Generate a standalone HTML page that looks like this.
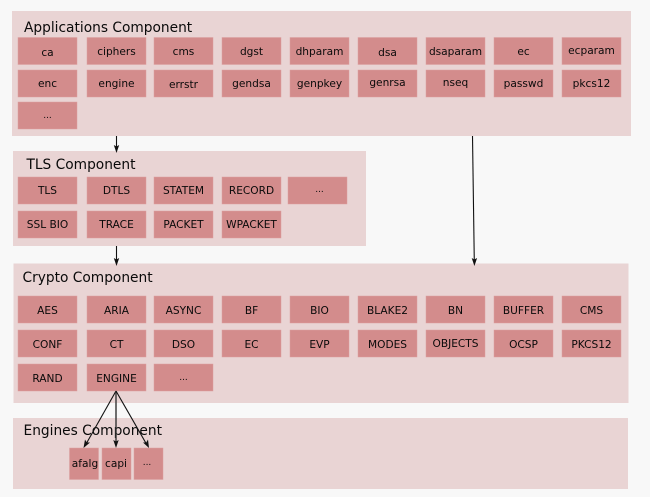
<!DOCTYPE html>
<html>
<head>
<meta charset="utf-8">
<style>
html,body{margin:0;padding:0;background:#f8f8f8;}
svg{display:block;}
text{font-family:"DejaVu Sans",sans-serif;fill:#0a0a0a;}
.t{font-size:13.75px;}
.b{font-size:10.6px;text-anchor:middle;}
.p{fill:#e9d4d4;}
.n{fill:#d38c8c;stroke:#dc9f9f;stroke-width:.5;}
.l{stroke:#111;stroke-width:1.1;fill:none;}
.a{fill:#111;}
</style>
</head>
<body>
<svg width="650" height="497" viewBox="0 0 650 497" xmlns="http://www.w3.org/2000/svg">
<rect width="650" height="497" fill="#f8f8f8"/>
<rect class="p" x="12" y="11" width="619" height="125"/>
<rect class="p" x="13" y="151" width="353" height="95"/>
<rect class="p" x="13.500" y="263.500" width="615" height="139.500"/>
<rect class="p" x="13" y="418" width="615" height="71"/>
<text class="t" x="24" y="32">Applications Component</text>
<text class="t" x="26.500" y="169">TLS Component</text>
<text class="t" x="22.500" y="282">Crypto Component</text>
<text class="t" x="23.500" y="435">Engines Component</text>

<g>
<rect class="n" x="18" y="37.500" width="59" height="27"/><rect class="n" x="87" y="37.500" width="59" height="27"/><rect class="n" x="154" y="37.500" width="59" height="27"/><rect class="n" x="222" y="37.500" width="59" height="27"/><rect class="n" x="290" y="37.500" width="59" height="27"/><rect class="n" x="358" y="37.500" width="59" height="27"/><rect class="n" x="426" y="37.500" width="59" height="27"/><rect class="n" x="494" y="37.500" width="59" height="27"/><rect class="n" x="562" y="37.500" width="59" height="27"/>
<rect class="n" x="18" y="70" width="59" height="27"/><rect class="n" x="87" y="70" width="59" height="27"/><rect class="n" x="154" y="70" width="59" height="27"/><rect class="n" x="222" y="70" width="59" height="27"/><rect class="n" x="290" y="70" width="59" height="27"/><rect class="n" x="358" y="70" width="59" height="27"/><rect class="n" x="426" y="70" width="59" height="27"/><rect class="n" x="494" y="70" width="59" height="27"/><rect class="n" x="562" y="70" width="59" height="27"/>
<rect class="n" x="18" y="102" width="59" height="27"/>

<rect class="n" x="18" y="177" width="59" height="27"/><rect class="n" x="87" y="177" width="59" height="27"/><rect class="n" x="154" y="177" width="59" height="27"/><rect class="n" x="222" y="177" width="59" height="27"/><rect class="n" x="288" y="177" width="59" height="27"/>
<rect class="n" x="18" y="211" width="59" height="27"/><rect class="n" x="87" y="211" width="59" height="27"/><rect class="n" x="154" y="211" width="59" height="27"/><rect class="n" x="222" y="211" width="59" height="27"/>

<rect class="n" x="18" y="296" width="59" height="27"/><rect class="n" x="87" y="296" width="59" height="27"/><rect class="n" x="154" y="296" width="59" height="27"/><rect class="n" x="222" y="296" width="59" height="27"/><rect class="n" x="290" y="296" width="59" height="27"/><rect class="n" x="358" y="296" width="59" height="27"/><rect class="n" x="426" y="296" width="59" height="27"/><rect class="n" x="494" y="296" width="59" height="27"/><rect class="n" x="562" y="296" width="59" height="27"/>
<rect class="n" x="18" y="330" width="59" height="27"/><rect class="n" x="87" y="330" width="59" height="27"/><rect class="n" x="154" y="330" width="59" height="27"/><rect class="n" x="222" y="330" width="59" height="27"/><rect class="n" x="290" y="330" width="59" height="27"/><rect class="n" x="358" y="330" width="59" height="27"/><rect class="n" x="426" y="330" width="59" height="27"/><rect class="n" x="494" y="330" width="59" height="27"/><rect class="n" x="562" y="330" width="59" height="27"/>
<rect class="n" x="18" y="364" width="59" height="27"/><rect class="n" x="87" y="364" width="59" height="27"/><rect class="n" x="154" y="364" width="59" height="27"/>

<rect class="n" x="69.500" y="448" width="29" height="31.500"/><rect class="n" x="102" y="448" width="29" height="31.500"/><rect class="n" x="134" y="448" width="29" height="31.500"/>
</g>

<g class="labels">
<text class="b" x="47.500" y="56">ca</text><text class="b" x="116.500" y="55">ciphers</text><text class="b" x="183.500" y="55">cms</text><text class="b" x="251.500" y="55">dgst</text><text class="b" x="319.500" y="55">dhparam</text><text class="b" x="387.500" y="56">dsa</text><text class="b" x="455.500" y="55">dsaparam</text><text class="b" x="523.500" y="55">ec</text><text class="b" x="591.500" y="54">ecparam</text>
<text class="b" x="47.500" y="87">enc</text><text class="b" x="116.500" y="87">engine</text><text class="b" x="183.500" y="88">errstr</text><text class="b" x="251.500" y="87">gendsa</text><text class="b" x="319.500" y="87">genpkey</text><text class="b" x="387.500" y="86">genrsa</text><text class="b" x="455.500" y="86">nseq</text><text class="b" x="523.500" y="87">passwd</text><text class="b" x="591.500" y="87">pkcs12</text>
<text class="b" x="47.500" y="118" style="font-size:9px">...</text>

<text class="b" x="47.500" y="194">TLS</text><text class="b" x="116.500" y="194">DTLS</text><text class="b" x="183.500" y="194">STATEM</text><text class="b" x="251.500" y="194">RECORD</text><text class="b" x="319.500" y="192" style="font-size:9px">...</text>
<text class="b" x="47.500" y="228">SSL BIO</text><text class="b" x="116.500" y="228">TRACE</text><text class="b" x="183.500" y="228">PACKET</text><text class="b" x="251.500" y="228">WPACKET</text>

<text class="b" x="47.500" y="314">AES</text><text class="b" x="116.500" y="314">ARIA</text><text class="b" x="183.500" y="314">ASYNC</text><text class="b" x="251.500" y="314">BF</text><text class="b" x="319.500" y="314">BIO</text><text class="b" x="387.500" y="314">BLAKE2</text><text class="b" x="455.500" y="314">BN</text><text class="b" x="523.500" y="314">BUFFER</text><text class="b" x="591.500" y="314">CMS</text>
<text class="b" x="47.500" y="348">CONF</text><text class="b" x="116.500" y="348">CT</text><text class="b" x="183.500" y="348">DSO</text><text class="b" x="251.500" y="348">EC</text><text class="b" x="319.500" y="348">EVP</text><text class="b" x="387.500" y="348">MODES</text><text class="b" x="455.500" y="347">OBJECTS</text><text class="b" x="523.500" y="348">OCSP</text><text class="b" x="591.500" y="348">PKCS12</text>
<text class="b" x="47.500" y="382">RAND</text><text class="b" x="116.500" y="382">ENGINE</text><text class="b" x="183.500" y="380" style="font-size:9px">...</text>

<text class="b" x="85" y="467">afalg</text><text class="b" x="116" y="467">capi</text><text class="b" x="147" y="465" style="font-size:9px">...</text>
</g>

<g>
<line class="l" x1="116.500" y1="136" x2="116.500" y2="149"/>
<polygon class="a" points="116.500,153 113.800,145 116.500,146.500 119.200,145"/>
<line class="l" x1="116.500" y1="246" x2="116.500" y2="262"/>
<polygon class="a" points="116.500,266 113.800,258 116.500,259.500 119.200,258"/>
<line class="l" x1="472.500" y1="136" x2="474.300" y2="262"/>
<polygon class="a" points="474.400,266 471.700,258 474.300,259.500 477.100,258"/>
<line class="l" x1="116" y1="391" x2="85.500" y2="445"/>
<polygon class="a" points="83.500,448 85,439.500 86.800,442.500 90,442.500"/>
<line class="l" x1="116" y1="391" x2="116" y2="445" style="stroke-width:1.400;stroke:#333"/>
<polygon class="a" points="116,448 113.300,440 116,441.500 118.700,440"/>
<line class="l" x1="116" y1="391" x2="147" y2="445"/>
<polygon class="a" points="149,448 143,442.500 146.200,442.500 148,439.500"/>
</g>
</svg>
</body>
</html>
